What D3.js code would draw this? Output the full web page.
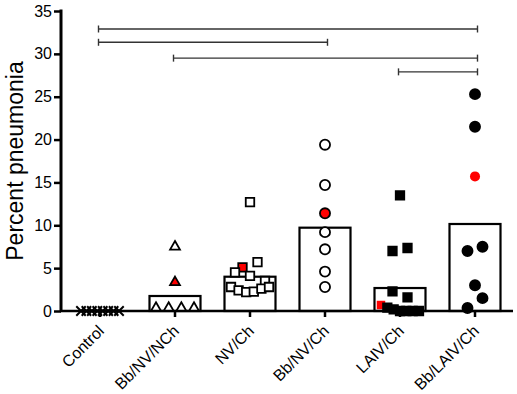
<!DOCTYPE html>
<html>
<head>
<meta charset="utf-8">
<script src="https://cdn.jsdelivr.net/npm/d3@7"></script>
<style>
  body { margin: 0; background: white; }
  text { font-family: "Liberation Sans", Arial, sans-serif; }
</style>
</head>
<body>
<div id="chart"></div>
<script>
// groups on the x axis
var groups = ["Control", "Bb/NV/NCh", "NV/Ch", "Bb/NV/Ch", "LAIV/Ch", "Bb/LAIV/Ch"];

// individual animals, percent pneumonia
var control  = [0, 0, 0, 0, 0, 0, 0, 0];
var bbNvNch  = [7.5, 3.35, 0, 0, 0, 0];
var nvCh     = [12.7, 5.1, 5.7, 4.5, 4.1, 3.5, 2.8, 2.4, 2.2, 2.25, 2.6, 2.8];
var bbNvCh   = [19.4, 14.7, 11.4, 9.2, 7.2, 4.6, 2.8];
var laivCh   = [13.5, 7.0, 7.35, 2.3, 1.6, 0.7, 0.4, 0.2, 0, 0, 0, 0];
var bbLaivCh = [25.3, 21.5, 15.7, 7.0, 7.5, 3.0, 0.35, 1.5];

// group means (bars)
var means = [0, 1.75, 4.0, 9.72, 2.68, 10.15];

// the red animal in each group
var highlight = [null, 3.35, 5.1, 11.4, 0.7, 15.7];

// significance brackets
var brackets = [
  {from: "Control",   to: "Bb/LAIV/Ch", level: 32.9},
  {from: "Control",   to: "Bb/NV/Ch",   level: 31.35},
  {from: "Bb/NV/NCh", to: "Bb/LAIV/Ch", level: 29.5},
  {from: "LAIV/Ch",   to: "Bb/LAIV/Ch", level: 27.9}
];

var yTicks = [0, 5, 10, 15, 20, 25, 30, 35];

var allValues = [control, bbNvNch, nvCh, bbNvCh, laivCh, bbLaivCh];
var shapes = ["x", "triangle", "square", "circle", "square", "circle"];
var filled = [false, false, false, false, true, true];

var width = 517, height = 394;

var svg = d3.select("#chart")
    .append("svg")
    .attr("width", width)
    .attr("height", height);

var x = d3.scaleBand()
    .domain(groups)
    .range([62.5, 512.5])
    .padding(0);

var y = d3.scaleLinear()
    .domain([0, 35])
    .range([311, 11]);

function cx(g) { return x(g) + x.bandwidth() / 2; }

// bars (control mean is 0, so no bar there)
svg.append("g").selectAll(".bar")
    .data(means.map(function (m, i) { return {g: groups[i], m: m}; })
        .filter(function (d) { return d.m > 0; }))
    .enter().append("rect")
    .attr("class", "bar")
    .attr("x", function (d) { return cx(d.g) - 25.5; })
    .attr("y", function (d) { return y(d.m); })
    .attr("width", 51)
    .attr("height", function (d) { return y(0) - y(d.m); })
    .attr("fill", "white")
    .attr("stroke", "black")
    .attr("stroke-width", 2.2);

// lay points out in rows so that they do not overlap
function layout(values, gi) {
  var idx = values.map(function (v, i) { return i; });
  var sorted = idx.slice().sort(function (a, b) { return values[b] - values[a]; });
  var rows = [];
  sorted.forEach(function (i) {
    var row = rows[rows.length - 1];
    if (row && Math.abs(y(values[i]) - y(values[row[0]])) < 10) row.push(i);
    else rows.push([i]);
  });
  var out = [];
  rows.forEach(function (row) {
    row.sort(function (a, b) { return a - b; });
    var n = row.length;
    var step = n > 1 ? Math.min(15, 38 / (n - 1)) : 0;
    row.forEach(function (i, k) {
      out.push({v: values[i], dx: (k - (n - 1) / 2) * step, i: i});
    });
  });
  out.sort(function (a, b) { return a.i - b.i; });
  var redDone = false;
  out.forEach(function (p) {
    p.red = false;
    if (!redDone && highlight[gi] !== null && p.v === highlight[gi]) { p.red = true; redDone = true; }
  });
  return out;
}

var symbolTypes = {
  x: d3.symbolX,
  triangle: d3.symbolTriangle,
  square: d3.symbolSquare,
  circle: d3.symbolCircle
};
var symbolSizes = {x: 60, triangle: 42, square: 72, circle: 80};

allValues.forEach(function (values, gi) {
  var pts = layout(values, gi);
  var shape = shapes[gi];
  svg.append("g").selectAll("path")
      .data(pts)
      .enter().append("path")
      .attr("d", d3.symbol().type(symbolTypes[shape]).size(symbolSizes[shape]))
      .attr("transform", function (d) {
        var yy = y(d.v);
        if (shape === "triangle" && d.v === 0) yy -= 3;
        return "translate(" + (cx(groups[gi]) + d.dx) + "," + yy + ")";
      })
      .attr("fill", function (d) {
        if (shape === "x") return "none";
        if (d.red) return "#ff0000";
        return filled[gi] ? "black" : "white";
      })
      .attr("stroke", function (d) {
        if (filled[gi] && d.red) return "none";
        return "black";
      })
      .attr("stroke-width", shape === "x" ? 2 : 1.8);
});

// y axis
var yAxis = svg.append("g")
    .attr("transform", "translate(61,0)")
    .call(d3.axisLeft(y).tickValues(yTicks).tickSize(7).tickPadding(2));
yAxis.select(".domain").attr("stroke-width", 3).attr("d", "M0,9.5V311");
yAxis.selectAll(".tick line").attr("stroke-width", 2.5);
yAxis.selectAll(".tick text")
    .style("font-size", "16px")
    .attr("fill", "black");

// x axis
var xAxis = svg.append("g")
    .attr("transform", "translate(0,311)")
    .call(d3.axisBottom(x).tickSize(6).tickSizeOuter(0));
xAxis.select(".domain").attr("stroke-width", 2.6).attr("d", "M60,0H513");
xAxis.selectAll(".tick line").attr("stroke-width", 2.5);
xAxis.selectAll(".tick text")
    .style("font-size", "16px")
    .attr("fill", "black")
    .attr("text-anchor", "end")
    .attr("y", 0)
    .attr("dy", 0)
    .attr("transform", "translate(5,21) rotate(-45)");

// y label
svg.append("text")
    .attr("transform", "translate(23,161) rotate(-90)")
    .attr("text-anchor", "middle")
    .style("font-size", "23px")
    .text("Percent pneumonia");

// brackets
var br = svg.append("g").selectAll("g")
    .data(brackets)
    .enter().append("g")
    .attr("stroke", "#333")
    .attr("stroke-width", 1.4);
br.append("line")
    .attr("x1", function (d) { return cx(d.from) - 1.5; })
    .attr("x2", function (d) { return cx(d.to) + 2.5; })
    .attr("y1", function (d) { return y(d.level); })
    .attr("y2", function (d) { return y(d.level); });
br.append("line")
    .attr("x1", function (d) { return cx(d.from) - 1.5; })
    .attr("x2", function (d) { return cx(d.from) - 1.5; })
    .attr("y1", function (d) { return y(d.level) - 3.5; })
    .attr("y2", function (d) { return y(d.level) + 3.5; });
br.append("line")
    .attr("x1", function (d) { return cx(d.to) + 2.5; })
    .attr("x2", function (d) { return cx(d.to) + 2.5; })
    .attr("y1", function (d) { return y(d.level) - 3.5; })
    .attr("y2", function (d) { return y(d.level) + 3.5; });
</script>
</body>
</html>
